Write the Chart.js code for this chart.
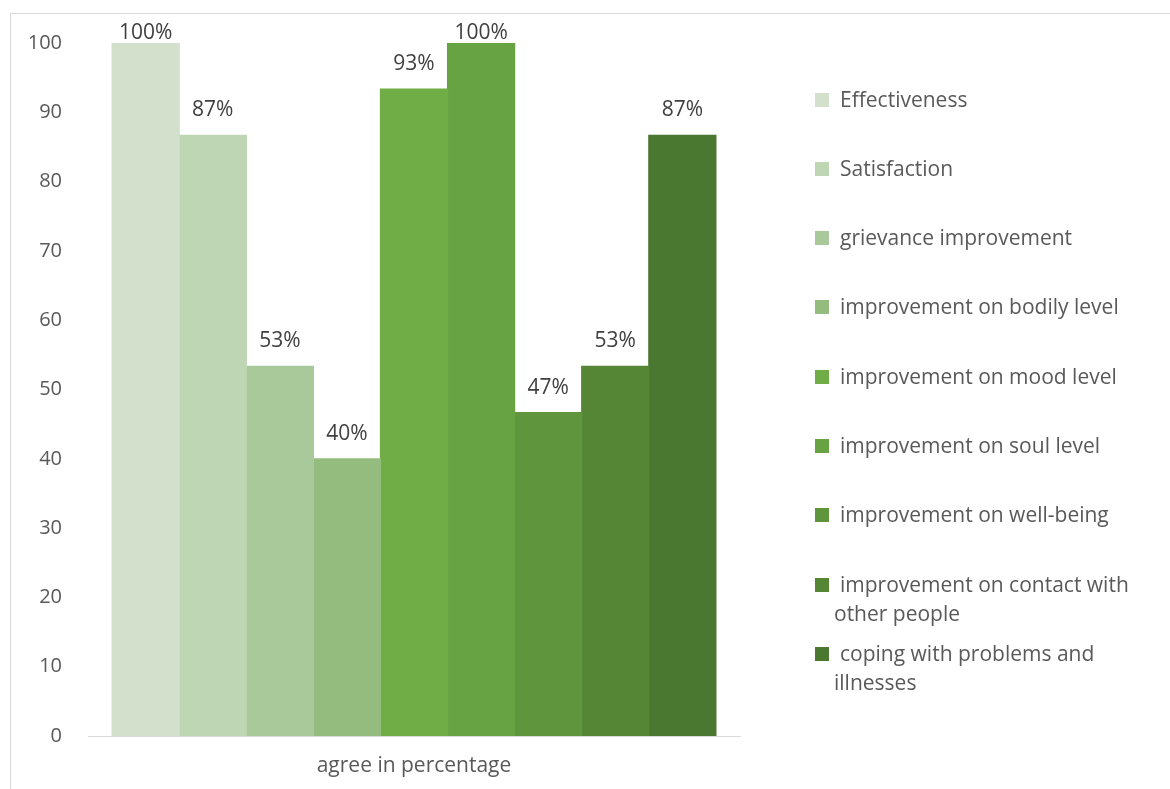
<!DOCTYPE html>
<html>
<head>
<meta charset="utf-8">
<script src="https://cdn.jsdelivr.net/npm/chart.js@4/dist/chart.umd.min.js"></script>
<style>
  html, body { margin: 0; padding: 0; background: #fff; }
  #wrap { position: relative; width: 1170px; height: 789px; overflow: hidden; font-family: "Open Sans", sans-serif; }
  #frame { position: absolute; left: 10px; top: 13px; width: 1170px; height: 800px; border: 1px solid #d9d9d9; box-sizing: border-box; }
  canvas { position: absolute; left: 0; top: 0; }
  #legend { position: absolute; left: 0; top: 0; }
  .item { position: absolute; left: 815px; width: 350px; color: #595959; font-size: 21px; line-height: 29px; }
  .sw { position: absolute; left: 0; top: 8px; width: 14px; height: 14px; }
  .tx { position: absolute; left: 19px; width: 330px; text-indent: 6px; }
</style>
</head>
<body>
<div id="wrap">
  <div id="frame"></div>
  <canvas id="c" width="1170" height="789"></canvas>
  <div id="legend"></div>
</div>
<script>
const categories = ["agree in percentage"];
const seriesNames = [
  "Effectiveness",
  "Satisfaction",
  "grievance improvement",
  "improvement on bodily level",
  "improvement on mood level",
  "improvement on soul level",
  "improvement on well-being",
  "improvement on contact with other people",
  "coping with problems and illnesses"
];
const seriesValues = [100, 86.67, 53.33, 40, 93.33, 100, 46.67, 53.33, 86.67];
const valueLabels = ["100%", "87%", "53%", "40%", "93%", "100%", "47%", "53%", "87%"];
const seriesColors = ["#d2e0cc", "#bed6b4", "#a9c99a", "#93bc7e", "#70ad47", "#68a343", "#5f963d", "#548636", "#4a7830"];
const yTicks = [0, 10, 20, 30, 40, 50, 60, 70, 80, 90, 100];

const labelPlugin = {
  id: 'valueLabels',
  afterDatasetsDraw(chart) {
    const ctx = chart.ctx;
    ctx.save();
    ctx.font = '21px "Open Sans", sans-serif';
    ctx.fillStyle = '#404040';
    ctx.textAlign = 'center';
    ctx.textBaseline = 'middle';
    chart.data.datasets.forEach((ds, i) => {
      const el = chart.getDatasetMeta(i).data[0];
      const y = Math.max(el.y - 25, 33);
      ctx.fillText(valueLabels[i], el.x, y);
    });
    ctx.restore();
  }
};

new Chart(document.getElementById('c'), {
  type: 'bar',
  data: {
    labels: categories,
    datasets: seriesNames.map((n, i) => ({
      label: n,
      data: [seriesValues[i]],
      backgroundColor: seriesColors[i],
      borderWidth: 0,
      inflateAmount: 0.6
    }))
  },
  options: {
    responsive: false,
    animation: false,
    devicePixelRatio: 1,
    layout: { padding: { top: 43, right: 430, left: 0, bottom: 0 } },
    datasets: { bar: { categoryPercentage: 0.926, barPercentage: 1.0 } },
    plugins: { legend: { display: false }, tooltip: { enabled: false } },
    scales: {
      x: {
        grid: { display: false, drawTicks: false },
        border: { display: true, color: '#d9d9d9', width: 1 },
        ticks: { color: '#595959', font: { family: 'Open Sans', size: 21 }, padding: 17 },
        afterFit(s) { s.height = 53; }
      },
      y: {
        min: 0, max: 100,
        afterBuildTicks(s) { s.ticks = yTicks.map(v => ({ value: v })); },
        grid: { display: false, drawTicks: false },
        border: { display: false },
        ticks: { color: '#595959', font: { family: 'Open Sans', size: 20 }, padding: 26 },
        afterFit(s) { s.width = 88; }
      }
    }
  },
  plugins: [labelPlugin]
});

const legend = document.getElementById('legend');
seriesNames.forEach((n, i) => {
  const d = document.createElement('div');
  d.className = 'item';
  d.style.top = (99 + i * 69.3 - 14.5) + 'px';
  const sw = document.createElement('div');
  sw.className = 'sw';
  sw.style.background = seriesColors[i];
  const tx = document.createElement('div');
  tx.className = 'tx';
  tx.textContent = n;
  d.appendChild(sw);
  d.appendChild(tx);
  legend.appendChild(d);
});
</script>
</body>
</html>
